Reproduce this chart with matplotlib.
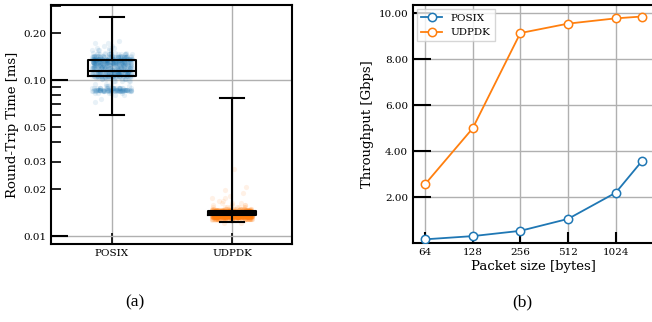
import matplotlib
matplotlib.use("Agg")
import matplotlib.pyplot as plt
import numpy as np
from matplotlib.ticker import FixedLocator, FormatStrFormatter, FuncFormatter

################## Data ###################

# (a) round-trip time samples (ms) and how often each value shows up
posix_rtt = [0.072, 0.076, 0.080, 0.083, 0.085, 0.087, 0.089, 0.092, 0.095,
             0.098, 0.101, 0.104, 0.107, 0.110, 0.113, 0.116, 0.119, 0.122,
             0.125, 0.128, 0.131, 0.134, 0.137, 0.140, 0.143, 0.146, 0.150,
             0.155, 0.160, 0.166, 0.172, 0.179]
posix_count = [1, 1, 2, 5, 30, 45, 25, 4, 3, 5, 8, 20, 35, 45, 40, 30, 25, 30,
               35, 40, 40, 40, 35, 30, 20, 12, 7, 5, 3, 2, 2, 1]

udpdk_rtt = [0.0122, 0.0126, 0.0129, 0.0132, 0.0135, 0.0138, 0.0141, 0.0144,
             0.0147, 0.0150, 0.0154, 0.0158, 0.0163, 0.0168, 0.0175, 0.0182,
             0.0190, 0.0197, 0.0205, 0.0268]
udpdk_count = [2, 12, 60, 130, 170, 170, 150, 100, 50, 20, 8, 4, 3, 2, 2, 1,
               1, 1, 1, 1]

# box statistics (ms): whisker low, q1, median, q3, whisker high
box_labels = ["POSIX", "UDPDK"]
box_whislo = [0.0597, 0.01225]
box_q1 = [0.1066, 0.0136]
box_med = [0.115, 0.0140]
box_q3 = [0.135, 0.0144]
box_whishi = [0.255, 0.0763]

# (b) throughput (Gbps) vs packet size (bytes)
packet_size = [64, 128, 256, 512, 1024, 1500]
posix_tput = [0.16, 0.30, 0.53, 1.05, 2.19, 3.57]
udpdk_tput = [2.55, 4.99, 9.14, 9.55, 9.78, 9.86]
size_ticks = [64, 128, 256, 512, 1024]
tput_ticks = [2, 4, 6, 8, 10]
rtt_decades = [0.01, 0.1]
rtt_minor = [0.02, 0.03, 0.04, 0.05, 0.06, 0.07, 0.08, 0.09, 0.2, 0.3]
rtt_minor_labelled = [0.02, 0.03, 0.05, 0.2]

################## Style ###################

c_blue = "#1f77b4"
c_orange = "#ff7f0e"
c_grid = "#b0b0b0"

plt.rcParams.update(
    {
        "font.family": "DejaVu Serif",
        "font.size": 7.5,
        "axes.linewidth": 1.5,
    }
)

fig = plt.figure(figsize=(6.52, 3.22), dpi=100)
ax1 = fig.add_axes([0.0782, 0.2422, 0.3696, 0.7422])
ax2 = fig.add_axes([0.6334, 0.2453, 0.3696, 0.7391])

####################### (a) #######################

rng = np.random.default_rng(3)
for pos, vals, counts, col in [
    (0, posix_rtt, posix_count, c_blue),
    (1, udpdk_rtt, udpdk_count, c_orange),
]:
    y = np.repeat(vals, counts)
    x = pos + rng.uniform(-0.17, 0.17, len(y))
    ax1.scatter(x, y, s=14, color=col, alpha=0.1, linewidths=0, zorder=2)

stats = []
for i, lab in enumerate(box_labels):
    stats.append(
        {
            "label": lab,
            "whislo": box_whislo[i],
            "q1": box_q1[i],
            "med": box_med[i],
            "q3": box_q3[i],
            "whishi": box_whishi[i],
            "fliers": [],
        }
    )
line_style = {"color": "black", "linewidth": 1.5}
ax1.bxp(
    stats,
    positions=[0, 1],
    widths=0.4,
    showfliers=False,
    boxprops=line_style,
    whiskerprops=line_style,
    capprops=line_style,
    medianprops=line_style,
    zorder=3,
)

ax1.set_yscale("log")
ax1.set_xlim(-0.508, 1.5)
ax1.set_ylim(0.0089, 0.303)

# decades: long inward ticks with grid; in-between values: short ticks
ax1.yaxis.set_major_locator(FixedLocator(rtt_decades))
ax1.yaxis.set_major_formatter(FormatStrFormatter("%.2f"))
ax1.yaxis.set_minor_locator(FixedLocator(rtt_minor))
ax1.yaxis.set_minor_formatter(
    FuncFormatter(
        lambda v, p: "%.2f" % v
        if any(abs(v - t) < 1e-9 for t in rtt_minor_labelled)
        else ""
    )
)
ax1.tick_params(axis="y", which="major", direction="in", length=12, width=1.5)
ax1.tick_params(axis="y", which="minor", direction="in", length=7, width=1.2,
                labelsize=7.5)
ax1.tick_params(axis="x", direction="in", length=8, width=1.2, labelsize=7.5)

ax1.grid(axis="x", color=c_grid, linewidth=1)
ax1.grid(axis="y", which="major", color=c_grid, linewidth=1)
ax1.set_axisbelow(True)
ax1.set_ylabel("Round-Trip Time [ms]", fontsize=9.5, labelpad=3)

####################### (b) #######################

ax2.plot(packet_size, posix_tput, color=c_blue, lw=1.3, marker="o", ms=6,
         mfc="white", mew=1.1, label="POSIX", zorder=3)
ax2.plot(packet_size, udpdk_tput, color=c_orange, lw=1.3, marker="o", ms=6,
         mfc="white", mew=1.1, label="UDPDK", zorder=3)

ax2.set_xscale("log", base=2)
ax2.set_xticks(size_ticks)
ax2.set_xticklabels([str(s) for s in size_ticks])
ax2.xaxis.set_minor_locator(FixedLocator([]))
ax2.set_xlim(53.8, 1784)
ax2.set_ylim(0, 10.36)
ax2.set_yticks(tput_ticks)
ax2.yaxis.set_major_formatter(FormatStrFormatter("%.2f"))
ax2.tick_params(axis="y", direction="in", length=13, width=1.5)
ax2.tick_params(axis="x", direction="in", length=8, width=1.5, labelsize=7.5)
ax2.grid(True, color=c_grid, linewidth=1)
ax2.set_axisbelow(True)

ax2.set_xlabel("Packet size [bytes]", fontsize=9.5, labelpad=2)
ax2.set_ylabel("Throughput [Gbps]", fontsize=9.5, labelpad=3)
ax2.legend(loc="upper left", fontsize=7.5, fancybox=False, edgecolor="#cccccc",
           framealpha=0.8, borderaxespad=0.4)

# sub-figure captions
fig.text(135 / 652, 1 - 302 / 322, "(a)", ha="center", va="center",
         fontsize=12.5, family="Liberation Serif")
fig.text(522 / 652, 1 - 302 / 322, "(b)", ha="center", va="center",
         fontsize=12.5, family="Liberation Serif")

fig.savefig("out.png", dpi=100)
